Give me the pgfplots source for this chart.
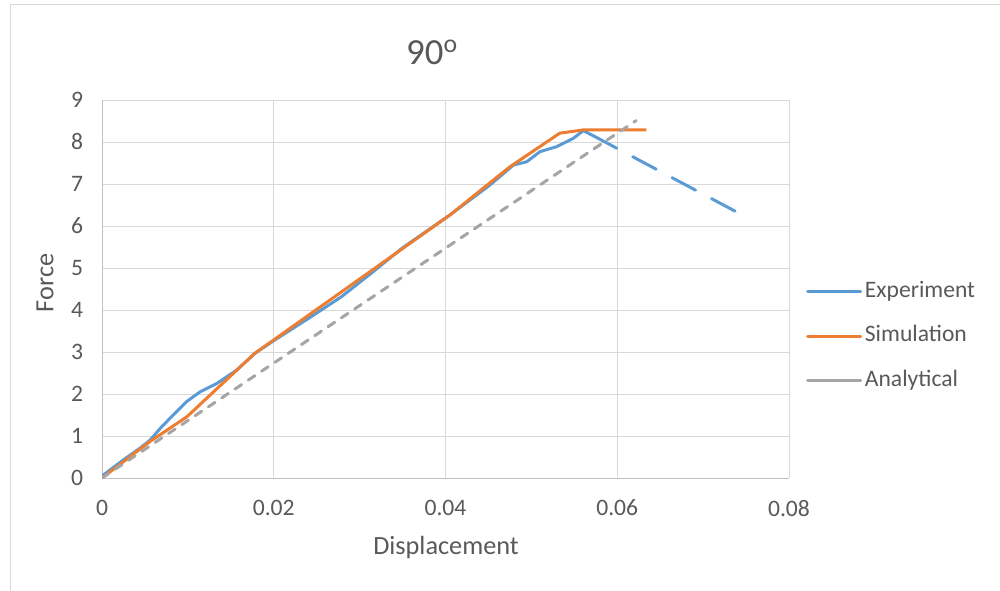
\documentclass[border=0pt]{standalone}
\usepackage{pgfplots}
\pgfplotsset{compat=1.18}
\usepackage{fontspec}
\setmainfont{Carlito}
\definecolor{expblue}{HTML}{5B9BD5}
\definecolor{simorange}{HTML}{ED7D31}
\definecolor{anagray}{HTML}{A5A5A5}
\definecolor{txt}{HTML}{595959}
\definecolor{gridc}{HTML}{D9D9D9}
\definecolor{axc}{HTML}{BFBFBF}
\begin{document}
\begin{tikzpicture}
\useasboundingbox (0,0) rectangle (750pt,442.5pt);
\draw[gridc, line width=0.75pt] (7.5pt,-20pt) -- (7.5pt,438.75pt) -- (780pt,438.75pt);
\node[txt, font=\fontsize{27.6}{30}\selectfont] at (324pt,403.5pt) {90\textsuperscript{o}};
\begin{axis}[
  scale only axis,
  width=515.25pt, height=283.5pt,
  at={(76.5pt,84pt)}, anchor=south west,
  xmin=0, xmax=0.08, ymin=0, ymax=9,
  xtick={0,0.02,0.04,0.06,0.08},
  ytick={0,1,...,9},
  xticklabels={0,0.02,0.04,0.06,0.08},
  scaled x ticks=false,
  grid=major,
  major grid style={gridc, line width=0.75pt},
  axis line style={axc, line width=0.75pt},
  axis x line*=bottom, axis y line*=left,
  x axis line style={-}, y axis line style={-},
  tick style={draw=none},
  ticklabel style={txt, font=\fontsize{17.7}{20}\selectfont},
  /pgf/number format/assume math mode=true,
  yticklabel style={xshift=-10.6pt},
  xticklabel style={yshift=-12.9pt},
  xlabel={Displacement}, ylabel={Force},
  label style={txt, font=\fontsize{19.7}{22}\selectfont},
  xlabel style={at={(axis description cs:0.5007,-0.185)}, anchor=center},
  ylabel style={at={(axis description cs:-0.083,0.516)}, anchor=center},
  legend cell align=left,
  legend image code/.code={\draw[#1, solid, line width=2.25pt, line cap=round] (0pt,0pt) -- (39.75pt,0pt);},
  legend style={draw=none, fill=none, inner sep=0pt, at={(1.0247,0.5284)}, anchor=north west,
    font=\fontsize{17.7}{20}\selectfont, text=txt, row sep=13.4pt,
    nodes={inner sep=2pt, text height=12pt, text depth=4pt},
    /tikz/every even column/.append style={column sep=2.75pt}},
]
\addplot[expblue, line width=2.25pt, line join=round] coordinates {
  (0,0.05) (0.00015,0.07) (0.00248,0.43) (0.00442,0.71) (0.00559,0.9)
  (0.00695,1.22) (0.0083,1.5) (0.00986,1.82) (0.01141,2.05) (0.01336,2.25)
  (0.01569,2.57) (0.01782,2.97) (0.02015,3.29)
  (0.0245,3.86) (0.02791,4.32) (0.0315,4.9) (0.035,5.48) (0.0405,6.26)
  (0.0452,6.98) (0.0479,7.45) (0.04946,7.53) (0.051,7.77) (0.05295,7.89)
  (0.0549,8.09) (0.05605,8.27) (0.0572,8.15)
};
\addlegendentry{Experiment}
\addplot[expblue, line width=2.25pt, line cap=round, dash pattern=on 20pt off 13.5pt, forget plot] coordinates {
  (0.0572,8.15) (0.0743,6.29)
};
\addplot[simorange, line width=2.25pt, line join=round] coordinates {
  (0,0) (0.0056,0.87) (0.0099,1.46) (0.0178,2.97) (0.0405,6.26) (0.0475,7.41)
  (0.0533,8.21) (0.0561,8.29) (0.0634,8.29)
};
\addlegendentry{Simulation}
\addplot[anagray, line width=2.25pt, line cap=round, dash pattern=on 6pt off 6pt] coordinates {
  (0,0) (0.0622,8.51)
};
\addlegendentry{Analytical}
\end{axis}
\end{tikzpicture}
\end{document}
